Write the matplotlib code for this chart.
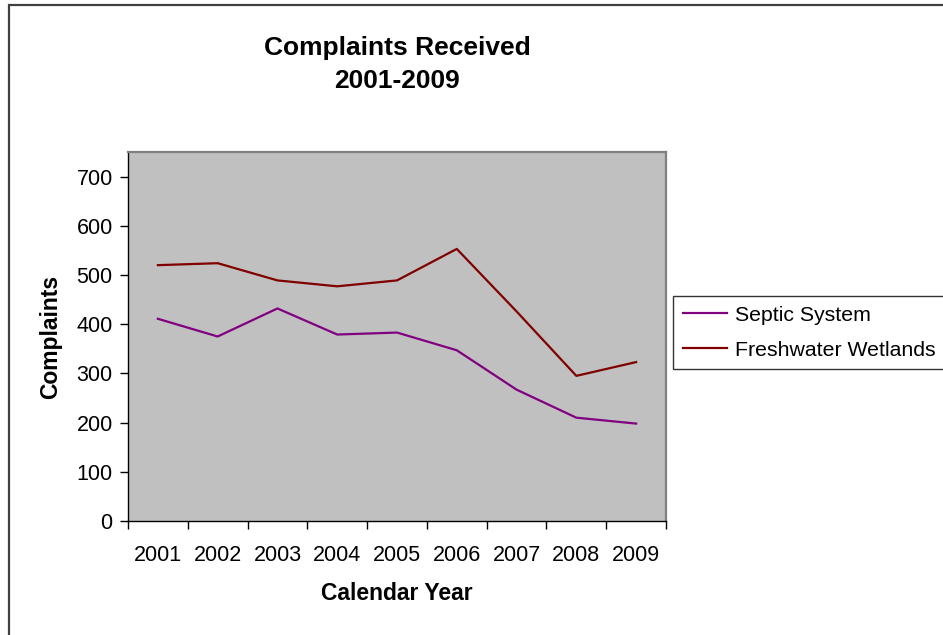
import matplotlib
matplotlib.use("Agg")
import matplotlib.pyplot as plt
from matplotlib.patches import Rectangle
from matplotlib.ticker import FixedLocator

plt.rcParams['font.family'] = ['Liberation Sans', 'DejaVu Sans']

# dados
anos = ['2001', '2002', '2003', '2004', '2005', '2006', '2007', '2008', '2009']
septic = [411, 375, 432, 379, 383, 347, 267, 210, 198]
freshwater = [520, 524, 489, 477, 489, 553, 426, 295, 323]

fig = plt.figure(figsize=(9.43, 6.35), dpi=100)
fig.patch.set_facecolor('white')

# moldura externa do gráfico (cortada à direita e embaixo)
fig.patches.append(Rectangle((9 / 943, -0.05), 1.0, 1.05 - 5 / 635,
                             transform=fig.transFigure, fill=False,
                             edgecolor='#404040', linewidth=1.6))

ax = fig.add_axes([128 / 943, 1 - 521 / 635, (666 - 128) / 943, (521 - 152) / 635])
ax.set_facecolor('#C0C0C0')

x = list(range(len(anos)))
ax.plot(x, septic, color='#800080', linewidth=1.6, label='Septic System')
ax.plot(x, freshwater, color='#800000', linewidth=1.6, label='Freshwater Wetlands')

ax.set_xlim(-0.5, len(anos) - 0.5)
ax.set_ylim(0, 750)
ax.set_yticks(range(0, 701, 100))

# ticks nas divisões, rótulos no centro das categorias
ax.xaxis.set_major_locator(FixedLocator([i - 0.5 for i in range(len(anos) + 1)]))
ax.xaxis.set_major_formatter(plt.NullFormatter())
ax.xaxis.set_minor_locator(FixedLocator(x))
ax.set_xticklabels(anos, minor=True)
ax.tick_params(axis='x', which='major', direction='out', length=6, width=1, color='black')
ax.tick_params(axis='x', which='minor', length=0, pad=17, labelsize=15.5)
ax.tick_params(axis='y', direction='out', length=6, width=1, pad=5, labelsize=15.5)

for lado in ['left', 'bottom']:
    ax.spines[lado].set_color('black')
    ax.spines[lado].set_linewidth(1.0)
for lado in ['top', 'right']:
    ax.spines[lado].set_color('#808080')
    ax.spines[lado].set_linewidth(1.6)

ax.set_xlabel('Calendar Year', fontsize=16.5, fontweight='bold', labelpad=12)
ax.set_ylabel('Complaints', fontsize=16.5, fontweight='bold', labelpad=10)

fig.text(397 / 943, 1 - 48 / 635, 'Complaints Received', ha='center', va='center',
         fontsize=19, fontweight='bold')
fig.text(397 / 943, 1 - 81 / 635, '2001-2009', ha='center', va='center',
         fontsize=19, fontweight='bold')

leg = ax.legend(loc='upper left', bbox_to_anchor=(673 / 943, 1 - 296 / 635),
                bbox_transform=fig.transFigure, prop={'size': 15.3}, frameon=True,
                fancybox=False, borderpad=0.45, handlelength=2.1,
                handletextpad=0.35, labelspacing=0.75, borderaxespad=0)
leg.get_frame().set_edgecolor('black')
leg.get_frame().set_linewidth(1.0)

fig.savefig('out.png', dpi=100)
plt.close()
